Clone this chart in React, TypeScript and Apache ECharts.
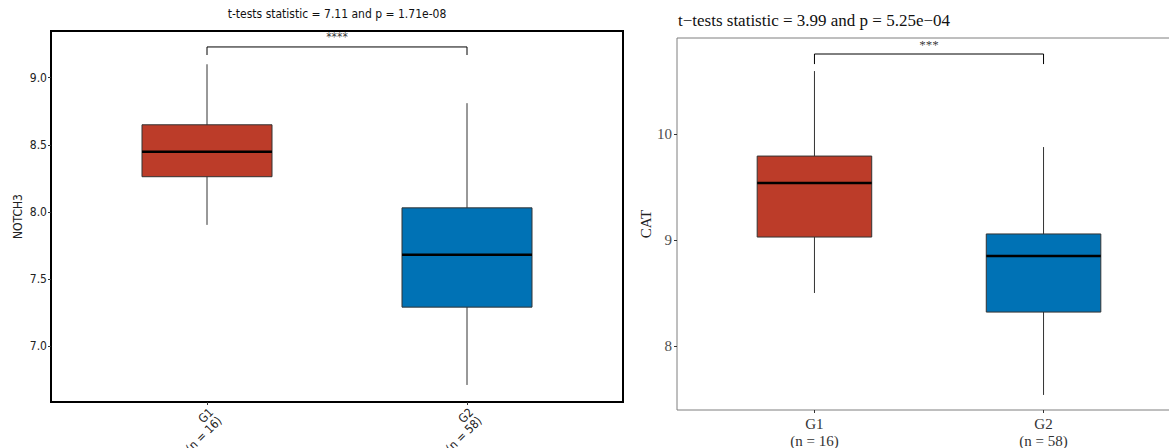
import { useEffect, useRef } from "react";
import * as echarts from "echarts";

const groups = ["G1", "G2"];
const groupCounts = [16, 58];
const groupPositions = [1, 2];
// [lower whisker, Q1, median, Q3, upper whisker]
const notch3Stats = [
  [7.903, 8.262, 8.448, 8.649, 9.1],
  [6.71, 7.29, 7.68, 8.03, 8.81],
];
const catStats = [
  [8.5, 9.028, 9.538, 9.792, 10.594],
  [7.538, 8.32, 8.849, 9.057, 9.877],
];
const notch3Ticks = [7.0, 7.5, 8.0, 8.5, 9.0];
const catTicks = [8, 9, 10];
const boxColors = ["#BC3C29", "#0072B5"];
const notch3Title = "t-tests statistic = 7.11 and p = 1.71e-08";
const catTitle = "t\u2212tests statistic = 3.99 and p = 5.25e\u221204";
const notch3Sig = "****";
const catSig = "***";
const notch3Bracket = [9.169, 9.229, 9.303]; // tick bottom, bracket top, label
const catBracket = [10.66, 10.755, 10.84];

const SANS = "'Liberation Sans Narrow', 'DejaVu Sans Condensed', 'Roboto', sans-serif";
const SERIF = "'Liberation Serif', 'DejaVu Serif', serif";

const renderBox = (params: any, api: any) => {
  const x = api.value(0);
  const pLo = api.coord([x, api.value(1)]);
  const pQ1 = api.coord([x, api.value(2)]);
  const pMed = api.coord([x, api.value(3)]);
  const pQ3 = api.coord([x, api.value(4)]);
  const pHi = api.coord([x, api.value(5)]);
  const halfW = api.size([0.5, 0])[0] / 2;
  const color = boxColors[params.dataIndex];
  return {
    type: "group",
    children: [
      {
        type: "line",
        shape: { x1: pHi[0], y1: pHi[1], x2: pLo[0], y2: pLo[1] },
        style: { stroke: "#333", lineWidth: 1 },
      },
      {
        type: "rect",
        shape: { x: pQ3[0] - halfW, y: pQ3[1], width: 2 * halfW, height: pQ1[1] - pQ3[1] },
        style: { fill: color, stroke: "#333", lineWidth: 1 },
      },
      {
        type: "line",
        shape: { x1: pMed[0] - halfW, y1: pMed[1], x2: pMed[0] + halfW, y2: pMed[1] },
        style: { stroke: "#000", lineWidth: 2.5 },
      },
    ],
  };
};

const labelFor = (v: number) => {
  const i = groupPositions.indexOf(Math.round(v));
  return i < 0 ? "" : `${groups[i]}\n(n = ${groupCounts[i]})`;
};

export default function App() {
  const ref = useRef<HTMLDivElement>(null);
  useEffect(() => {
    if (!ref.current) return;
    const chart = echarts.init(ref.current, undefined, { renderer: "svg" });
    const boxData = (stats: number[][]) => stats.map((s, i) => [groupPositions[i], ...s]);
    const bracket = (b: number[]) => [
      [groupPositions[0], b[0]],
      [groupPositions[0], b[1]],
      [groupPositions[1], b[1]],
      [groupPositions[1], b[0]],
    ];
    chart.setOption({
      animation: false,
      backgroundColor: "#fff",
      grid: [
        { left: 51, top: 31, width: 572, height: 371, show: true, borderColor: "#000", borderWidth: 2, backgroundColor: "transparent", outerBoundsMode: "none", containLabel: false },
        { left: 677, top: 38, width: 504, height: 372, show: true, borderColor: "#7f7f7f", borderWidth: 1, backgroundColor: "transparent", outerBoundsMode: "none", containLabel: false },
      ],
      xAxis: [
        {
          gridIndex: 0, type: "value", min: 0.4, max: 2.6,
          axisLine: { show: false }, splitLine: { show: false },
          axisTick: { show: true, customValues: groupPositions, length: 3, lineStyle: { color: "#333" } },
          axisLabel: {
            customValues: groupPositions, formatter: labelFor, rotate: 45, margin: 4,
            verticalAlign: "top", align: "right",
            fontSize: 12, color: "#222", fontFamily: SANS, lineHeight: 12,
          },
        },
        {
          gridIndex: 1, type: "value", min: 0.4, max: 2.6,
          axisLine: { show: false }, splitLine: { show: false },
          axisTick: { show: true, customValues: groupPositions, length: 3, lineStyle: { color: "#333" } },
          axisLabel: {
            customValues: groupPositions, formatter: labelFor, margin: 5,
            fontSize: 15, color: "#333", fontFamily: SERIF, lineHeight: 17,
          },
        },
      ],
      yAxis: [
        {
          gridIndex: 0, type: "value", min: 6.583, max: 9.348,
          axisLine: { show: false }, splitLine: { show: false },
          axisTick: { show: true, customValues: notch3Ticks, length: 3, lineStyle: { color: "#333" } },
          axisLabel: {
            customValues: notch3Ticks, formatter: (v: number) => v.toFixed(1), margin: 4,
            fontSize: 12, color: "#222", fontFamily: SANS,
          },
          name: "NOTCH3", nameLocation: "middle", nameGap: 27,
          nameTextStyle: { fontSize: 12, color: "#222", fontFamily: SANS },
        },
        {
          gridIndex: 1, type: "value", min: 7.396, max: 10.906,
          axisLine: { show: false }, splitLine: { show: false },
          axisTick: { show: true, customValues: catTicks, length: 3, lineStyle: { color: "#333" } },
          axisLabel: {
            customValues: catTicks, formatter: (v: number) => String(v), margin: 5,
            fontSize: 15, color: "#4d4d4d", fontFamily: SERIF,
          },
          name: "CAT", nameLocation: "middle", nameGap: 24,
          nameTextStyle: { fontSize: 15, color: "#222", fontFamily: SERIF },
        },
      ],
      graphic: [
        {
          type: "text", x: 337, y: 14,
          style: { text: notch3Title, textAlign: "center", textVerticalAlign: "middle", fontSize: 12, fontFamily: SANS, fill: "#111" },
        },
        {
          type: "text", x: 678, y: 20,
          style: { text: catTitle, textAlign: "left", textVerticalAlign: "middle", fontSize: 17, fontFamily: SERIF, fill: "#111" },
        },
      ],
      series: [
        {
          type: "custom", xAxisIndex: 0, yAxisIndex: 0, renderItem: renderBox,
          encode: { x: 0, y: [1, 2, 3, 4, 5] }, data: boxData(notch3Stats), z: 3,
        },
        {
          type: "custom", xAxisIndex: 1, yAxisIndex: 1, renderItem: renderBox,
          encode: { x: 0, y: [1, 2, 3, 4, 5] }, data: boxData(catStats), z: 3,
        },
        {
          type: "line", xAxisIndex: 0, yAxisIndex: 0, data: bracket(notch3Bracket),
          symbol: "none", lineStyle: { color: "#000", width: 1 },
        },
        {
          type: "line", xAxisIndex: 1, yAxisIndex: 1, data: bracket(catBracket),
          symbol: "none", lineStyle: { color: "#000", width: 1 },
        },
        {
          type: "scatter", xAxisIndex: 0, yAxisIndex: 0, symbolSize: 0,
          data: [[(groupPositions[0] + groupPositions[1]) / 2, notch3Bracket[2]]],
          label: { show: true, position: "inside", formatter: notch3Sig, fontSize: 12, color: "#000", fontFamily: SANS },
        },
        {
          type: "scatter", xAxisIndex: 1, yAxisIndex: 1, symbolSize: 0,
          data: [[(groupPositions[0] + groupPositions[1]) / 2, catBracket[2]]],
          label: { show: true, position: "inside", formatter: catSig, fontSize: 13, color: "#000", fontFamily: SERIF },
        },
      ],
    });
    return () => chart.dispose();
  }, []);
  return (
    <div
      ref={ref}
      style={{ position: "absolute", left: 0, top: 0, width: 1169, height: 448 }}
    />
  );
}
